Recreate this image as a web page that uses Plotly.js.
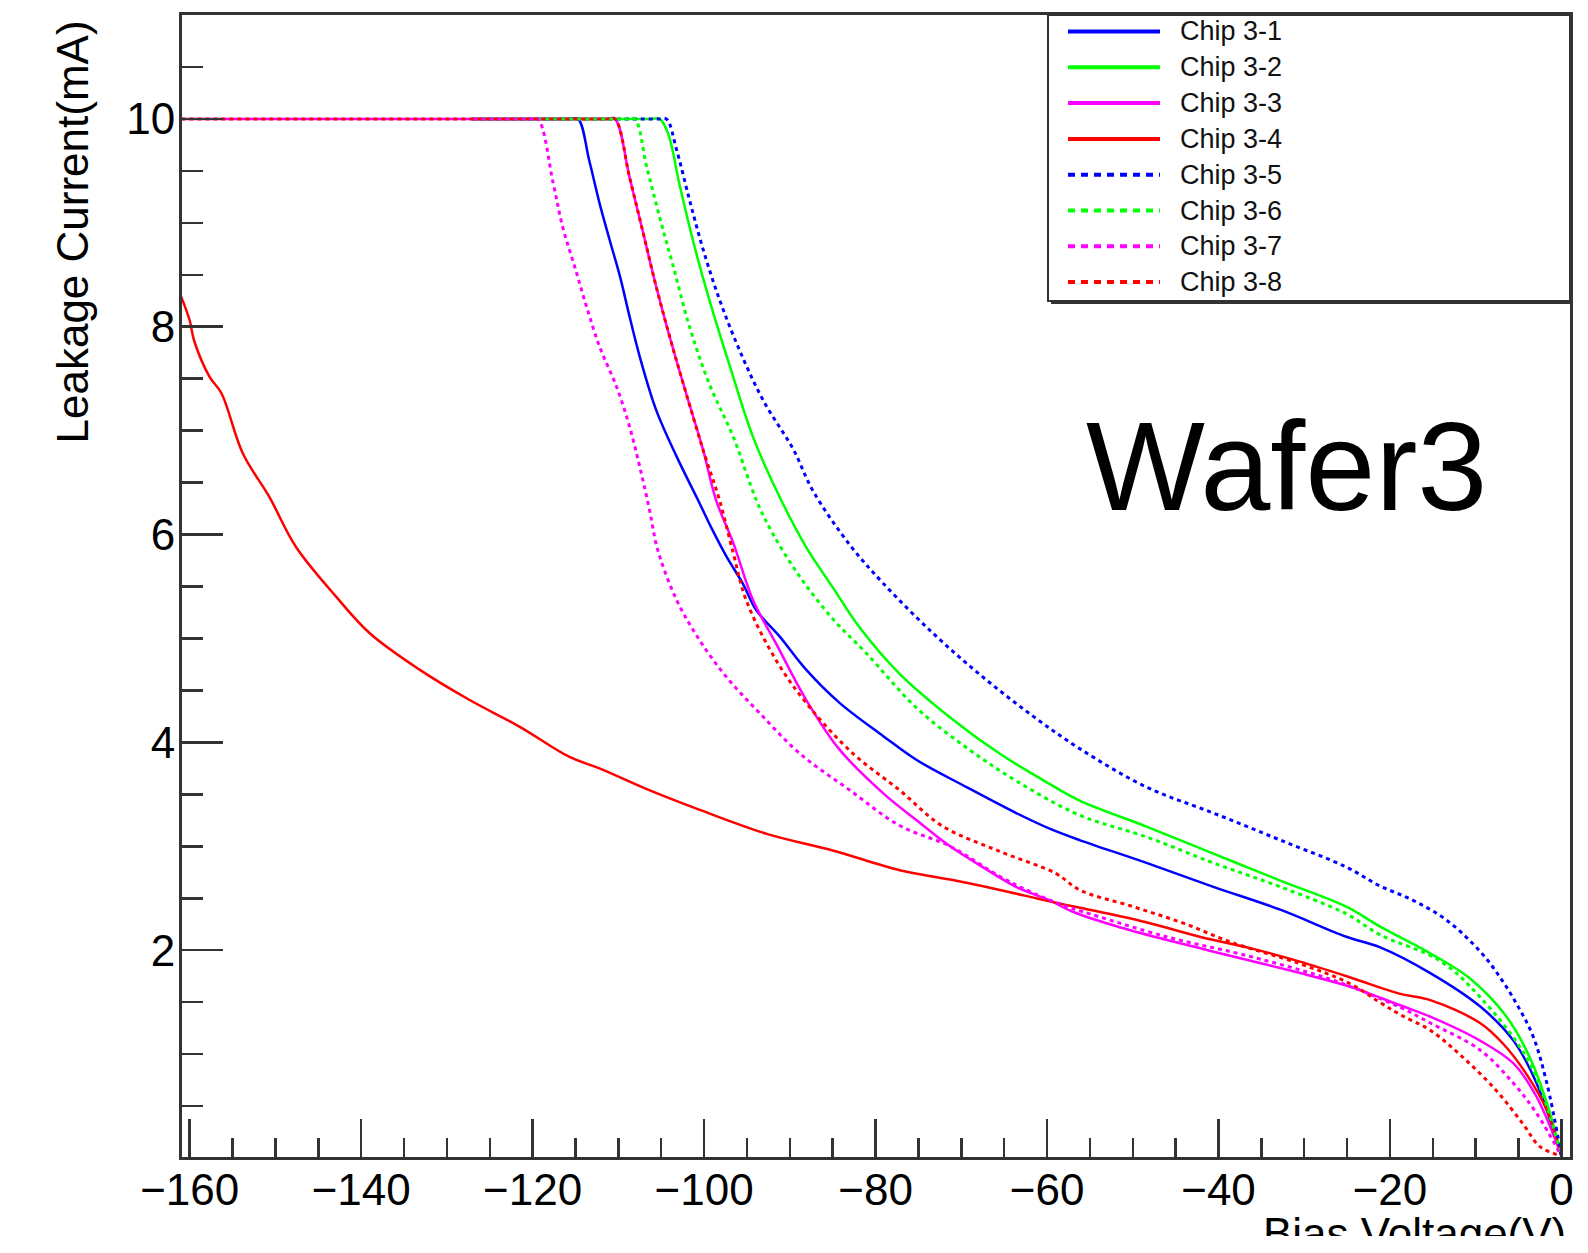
<!DOCTYPE html>
<html>
<head>
<meta charset="utf-8">
<script src="https://cdn.plot.ly/plotly-3.0.1.min.js"></script>
<style>
html, body { margin: 0; padding: 0; background: #ffffff; }
#chart { width: 1588px; height: 1236px; }
</style>
</head>
<body>
<div id="chart"></div>
<script>
// ---------------- DATA ----------------
const chipNames = ['Chip 3-1', 'Chip 3-2', 'Chip 3-3', 'Chip 3-4', 'Chip 3-5', 'Chip 3-6', 'Chip 3-7', 'Chip 3-8'];

// Bias voltage (V) and leakage current (mA) for each chip
const v31 = [-127, -115.7, -114.7, -113.4, -112.2, -111.0, -109.8, -108.7, -107.5, -105.6, -103.2, -100.7, -99.0, -97.4, -95.5, -93.9, -91.2, -88.1, -84.2, -79.1, -75.2, -69.4, -63.6, -59.7, -56.2, -48.4, -40.6, -32.8, -25.1, -21.2, -15.3, -9.5, -5.6, -2.9, 0];
const i31 = [10, 10, 10, 9.60, 9.19, 8.83, 8.48, 8.10, 7.71, 7.20, 6.75, 6.33, 6.04, 5.79, 5.53, 5.27, 5.02, 4.70, 4.38, 4.06, 3.83, 3.57, 3.32, 3.17, 3.06, 2.84, 2.61, 2.39, 2.13, 2.03, 1.78, 1.46, 1.13, 0.72, 0.02];

const v32 = [-127, -106.2, -105.2, -104.2, -102.9, -101.3, -99.4, -97.0, -94.3, -91.0, -88.1, -84.9, -81.9, -77.2, -71.3, -65.5, -59.7, -56.2, -48.4, -40.6, -32.8, -25.1, -21.2, -15.3, -10.7, -6.4, -3.7, -1.7, 0];
const i32 = [10, 10, 10, 9.86, 9.38, 8.83, 8.26, 7.62, 6.94, 6.33, 5.88, 5.48, 5.11, 4.66, 4.24, 3.89, 3.60, 3.44, 3.19, 2.93, 2.67, 2.42, 2.23, 1.97, 1.73, 1.36, 0.97, 0.53, 0.02];

const v33 = [-161, -111.4, -110.4, -108.7, -107.1, -105.6, -103.9, -102.1, -100.1, -98.6, -96.6, -94.3, -91.6, -88.1, -84.2, -79.1, -75.2, -71.3, -67.5, -63.6, -59.7, -57.0, -51.9, -46.1, -38.3, -30.5, -24.7, -18.8, -15.3, -9.5, -5.6, -2.9, 0];
const i33 = [10, 10, 10, 9.44, 8.90, 8.39, 7.87, 7.36, 6.81, 6.33, 5.92, 5.37, 4.95, 4.41, 3.93, 3.51, 3.25, 3.00, 2.80, 2.61, 2.48, 2.37, 2.23, 2.10, 1.94, 1.78, 1.65, 1.47, 1.36, 1.13, 0.91, 0.59, 0.02];

const v34 = [-161, -160.0, -159.5, -157.7, -156.3, -153.8, -150.7, -147.6, -142.9, -139.0, -133.2, -127.4, -121.5, -115.7, -112.2, -106.4, -100.5, -92.7, -85.0, -77.2, -71.3, -65.5, -59.7, -53.9, -48.0, -42.2, -36.3, -30.5, -24.7, -18.8, -15.3, -9.5, -6.8, -4.1, -1.7, 0];
const i34 = [8.29, 8.06, 7.87, 7.52, 7.36, 6.78, 6.36, 5.88, 5.40, 5.05, 4.70, 4.41, 4.15, 3.86, 3.75, 3.54, 3.35, 3.12, 2.96, 2.77, 2.68, 2.58, 2.47, 2.37, 2.26, 2.13, 2.02, 1.89, 1.74, 1.58, 1.52, 1.30, 1.10, 0.81, 0.46, 0.02];

const v35 = [-127, -105.4, -104.4, -103.2, -101.7, -100.1, -98.2, -95.9, -93.1, -89.6, -87.3, -83.0, -79.1, -73.3, -67.5, -61.6, -56.2, -48.4, -40.6, -32.8, -25.1, -21.2, -17.3, -13.4, -9.5, -7.0, -5.0, -3.3, -1.7, 0];
const i35 = [10, 10, 10, 9.70, 9.22, 8.74, 8.26, 7.78, 7.29, 6.82, 6.42, 5.90, 5.53, 5.05, 4.63, 4.25, 3.94, 3.57, 3.32, 3.06, 2.80, 2.62, 2.48, 2.29, 1.99, 1.72, 1.45, 1.17, 0.72, 0.02];

const v36 = [-127, -109.1, -108.1, -106.7, -105.2, -103.6, -101.7, -99.4, -96.6, -93.9, -92.0, -88.8, -84.9, -81.1, -75.2, -69.4, -63.6, -56.2, -48.4, -40.6, -32.8, -25.1, -21.2, -14.2, -9.5, -3.7, 0];
const i36 = [10, 10, 10, 9.54, 9.06, 8.58, 8.00, 7.45, 6.94, 6.33, 6.01, 5.59, 5.18, 4.86, 4.33, 3.95, 3.63, 3.30, 3.09, 2.84, 2.61, 2.35, 2.15, 1.90, 1.55, 0.91, 0.02];

const v37 = [-127, -120.4, -119.4, -117.6, -116.5, -115.1, -113.7, -112.2, -110.2, -108.7, -107.5, -106.4, -105.4, -103.2, -100.5, -97.4, -93.5, -88.8, -83.0, -77.2, -71.3, -65.5, -61.6, -57.7, -55.8, -46.1, -36.3, -26.6, -18.8, -15.3, -9.5, -5.6, -2.9, 0];
const i37 = [10, 10, 10, 9.38, 8.96, 8.58, 8.19, 7.81, 7.42, 7.04, 6.65, 6.25, 5.85, 5.37, 4.98, 4.63, 4.28, 3.89, 3.54, 3.20, 3.00, 2.71, 2.55, 2.42, 2.37, 2.13, 1.94, 1.71, 1.45, 1.30, 1.04, 0.72, 0.43, 0.02];

const v38 = [-161, -111.4, -110.4, -108.7, -107.1, -105.6, -103.9, -102.1, -100.1, -98.2, -96.6, -95.1, -91.6, -87.7, -82.6, -77.2, -72.3, -65.5, -59.0, -56.2, -50.0, -44.1, -38.3, -30.5, -24.7, -21.2, -18.8, -15.3, -11.5, -7.6, -4.5, -2.5, 0];
const i38 = [10, 10, 10, 9.44, 8.90, 8.39, 7.87, 7.36, 6.81, 6.33, 5.82, 5.37, 4.79, 4.34, 3.89, 3.54, 3.20, 2.95, 2.74, 2.58, 2.42, 2.26, 2.07, 1.87, 1.68, 1.50, 1.38, 1.23, 0.97, 0.65, 0.33, 0.11, 0.02];

const voltages = [v31, v32, v33, v34, v35, v36, v37, v38];
const currents = [i31, i32, i33, i34, i35, i36, i37, i38];

const xTickVals = [-160, -140, -120, -100, -80, -60, -40, -20, 0];
const yTickVals = [2, 4, 6, 8, 10];

// ---------------- STYLE ----------------
const chipColors = ['#0000ff', '#00ff00', '#ff00ff', '#ff0000', '#0000ff', '#00ff00', '#ff00ff', '#ff0000'];
const chipDashes = ['solid', 'solid', 'solid', 'solid', '4px,4px', '4px,4px', '4px,4px', '4px,4px'];
const chipWidths = [2.5, 2.5, 2.5, 2.5, 3, 3, 3, 3];

const FONT = 'Liberation Sans, Arial, Helvetica, sans-serif';
const AX = '#333333';

// plot-area pixel frame (for placing free text in paper coordinates)
const L = 182, R = 1570, T = 15, B = 1157;
const W = R - L, H = B - T;
const px = x => (x - L) / W;
const py = y => (B - y) / H;

const traces = chipNames.map((name, k) => ({
  type: 'scatter',
  mode: 'lines',
  name: name,
  x: voltages[k],
  y: currents[k],
  line: { color: chipColors[k], width: chipWidths[k], dash: chipDashes[k], shape: 'spline', smoothing: 1.0 },
  showlegend: false,
  hoverinfo: 'skip'
}));

// manual ROOT-style legend
const legTop = 15, legBottom = 301, legLeft = 1048;
const rowY0 = 31.5, rowStep = 35.8;
const shapes = [];
const annotations = [];
shapes.push({ type: 'rect', xref: 'paper', yref: 'paper', x0: px(legLeft), x1: px(R), y0: py(legBottom), y1: py(legTop),
  fillcolor: '#ffffff', line: { color: AX, width: 2 }, layer: 'above' });
shapes.push({ type: 'line', xref: 'paper', yref: 'paper', x0: px(legLeft + 3), x1: px(R), y0: py(legBottom + 2), y1: py(legBottom + 2),
  line: { color: AX, width: 2 }, layer: 'above' });
chipNames.forEach((name, k) => {
  const yy = rowY0 + k * rowStep;
  shapes.push({ type: 'line', xref: 'paper', yref: 'paper', x0: px(1068), x1: px(1160), y0: py(yy), y1: py(yy),
    line: { color: chipColors[k], width: 4, dash: k < 4 ? 'solid' : '7px,6px' }, layer: 'above' });
  annotations.push({ xref: 'paper', yref: 'paper', x: px(1178), y: py(yy), xanchor: 'left', yanchor: 'middle',
    text: name, showarrow: false, font: { family: FONT, size: 27, color: '#111111' } });
});

annotations.push({ xref: 'paper', yref: 'paper', x: px(72), y: 1, xanchor: 'center', yanchor: 'top', yshift: -4,
  text: 'Leakage Current(mA)', textangle: -90, showarrow: false, font: { family: FONT, size: 44, color: '#000000' } });
annotations.push({ xref: 'paper', yref: 'paper', x: px(1568), y: py(1207), xanchor: 'right', yanchor: 'top',
  text: 'Bias Voltage(V)', showarrow: false, font: { family: FONT, size: 44, color: '#000000' } });
annotations.push({ xref: 'paper', yref: 'paper', x: px(1084), y: py(466), xanchor: 'left', yanchor: 'middle',
  text: 'Wafer3', showarrow: false, font: { family: FONT, size: 126, color: '#000000' } });

const layout = {
  width: 1588,
  height: 1236,
  margin: { l: L, r: 1588 - R, t: T, b: 1236 - B, pad: 0 },
  paper_bgcolor: '#ffffff',
  plot_bgcolor: '#ffffff',
  showlegend: false,
  font: { family: FONT, color: '#000000' },
  xaxis: {
    range: [-160.9, 1.0],
    tickmode: 'array',
    tickvals: xTickVals,
    ticks: 'inside',
    ticklen: 38,
    tickwidth: 2.5,
    tickcolor: AX,
    ticklabelstandoff: -8,
    tickfont: { family: FONT, size: 44, color: '#000000' },
    showgrid: false,
    zeroline: false,
    showline: true,
    linecolor: AX,
    linewidth: 3,
    mirror: true,
    minor: { dtick: 5, tick0: 0, ticks: 'inside', ticklen: 19, tickwidth: 2.5, tickcolor: AX, showgrid: false }
  },
  yaxis: {
    range: [0.01, 11.0],
    tickmode: 'array',
    tickvals: yTickVals,
    ticks: 'inside',
    ticklen: 41,
    tickwidth: 2.5,
    tickcolor: AX,
    ticklabelstandoff: -5,
    tickfont: { family: FONT, size: 44, color: '#000000' },
    showgrid: false,
    zeroline: false,
    showline: true,
    linecolor: AX,
    linewidth: 3,
    mirror: true,
    minor: { dtick: 0.5, tick0: 0, ticks: 'inside', ticklen: 21, tickwidth: 2.5, tickcolor: AX, showgrid: false }
  },
  shapes: shapes,
  annotations: annotations
};

Plotly.newPlot('chart', traces, layout, { staticPlot: true, displayModeBar: false });
</script>
</body>
</html>
